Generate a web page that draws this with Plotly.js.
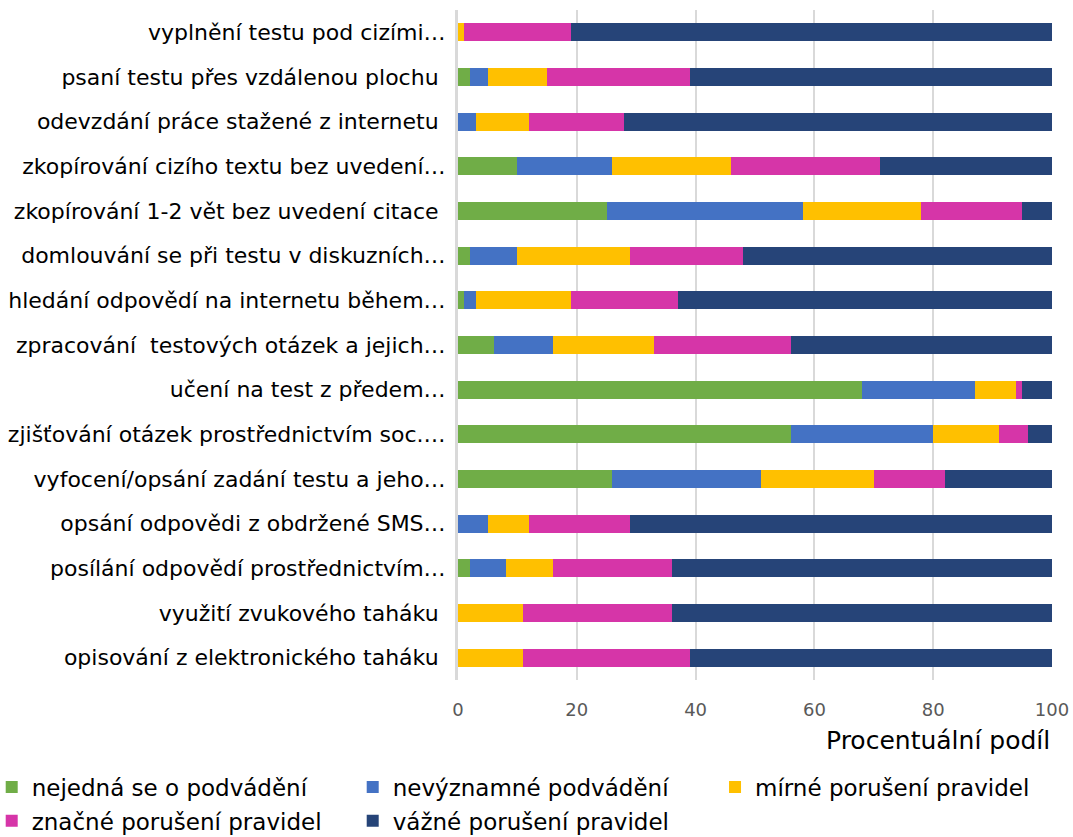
<!DOCTYPE html>
<html>
<head>
<meta charset="utf-8">
<script src="https://cdn.plot.ly/plotly-3.0.1.min.js"></script>
<style>html,body{margin:0;padding:0;background:#fff;}#chart{width:1073px;height:837px;}</style>
</head>
<body>
<div id="chart"></div>
<script>
const categories = [
  "vyplnění testu pod cizími…",
  "psaní testu přes vzdálenou plochu\u00a0",
  "odevzdání práce stažené z internetu\u00a0",
  "zkopírování cizího textu bez uvedení…",
  "zkopírování 1-2 vět bez uvedení citace\u00a0",
  "domlouvání se při testu v diskuzních…",
  "hledání odpovědí na internetu během…",
  "zpracování \u00a0testových otázek a jejich…",
  "učení na test z předem…",
  "zjišťování otázek prostřednictvím soc.…",
  "vyfocení/opsání zadání testu a jeho…",
  "opsání odpovědi z obdržené SMS…",
  "posílání odpovědí prostřednictvím…",
  "využití zvukového taháku\u00a0",
  "opisování z elektronického taháku\u00a0"
];
const seriesNames = ["nejedná se o podvádění","nevýznamné podvádění","mírné porušení pravidel","značné porušení pravidel","vážné porušení pravidel"];
const nejedna     = [0, 2, 0, 10, 25, 2, 1, 6, 68, 56, 26, 0, 2, 0, 0];
const nevyznamne  = [0, 3, 3, 16, 33, 8, 2, 10, 19, 24, 25, 5, 6, 0, 0];
const mirne       = [1, 10, 9, 20, 20, 19, 16, 17, 7, 11, 19, 7, 8, 11, 11];
const znacne      = [18, 24, 16, 25, 17, 19, 18, 23, 1, 5, 12, 17, 20, 25, 28];
const vazne       = [81, 61, 72, 29, 5, 52, 63, 44, 5, 4, 18, 71, 64, 64, 61];
const seriesValues = [nejedna, nevyznamne, mirne, znacne, vazne];
const colors = ["#70AD47","#4472C4","#FFC000","#D635A8","#264478"];
const legendGroup = ["legend","legend","legend3","legend2","legend2"];

const traces = seriesValues.map((vals, i) => ({
  type: "bar",
  orientation: "h",
  name: seriesNames[i],
  x: vals,
  y: categories,
  legend: legendGroup[i],
  marker: {color: colors[i], line: {width: 0}},
  hoverinfo: "x+name"
}));

const FONT = "DejaVu Sans, sans-serif";
const legendCommon = {
  orientation: "h",
  xanchor: "left",
  yanchor: "middle",
  traceorder: "normal",
  entrywidth: 316,
  entrywidthmode: "pixels",
  itemwidth: 30,
  font: {size: 23, color: "#000", family: FONT},
  bgcolor: "rgba(0,0,0,0)"
};

const layout = {
  width: 1073, height: 837,
  margin: {l: 458, r: 21, t: 10, b: 157, autoexpand: false},
  barmode: "stack",
  bargap: 0.6,
  paper_bgcolor: "#ffffff",
  plot_bgcolor: "#ffffff",
  font: {family: FONT, color: "#000"},
  xaxis: {
    range: [0, 100],
    dtick: 20,
    tick0: 0,
    showgrid: true,
    gridcolor: "#d9d9d9",
    gridwidth: 2,
    zeroline: false,
    showline: false,
    ticks: "",
    ticklabelstandoff: 17,
    tickfont: {size: 18, color: "#595959", family: FONT},
    fixedrange: true
  },
  yaxis: {
    type: "category",
    autorange: "reversed",
    showgrid: false,
    zeroline: false,
    showline: true,
    linecolor: "#d9d9d9",
    linewidth: 3,
    ticks: "",
    ticklabelstandoff: 5,
    tickfont: {size: 22, color: "#000", family: FONT},
    fixedrange: true
  },
  annotations: [{
    text: "Procentuální podíl",
    xref: "paper", yref: "paper",
    x: 1, y: -0.0896,
    xanchor: "right", yanchor: "middle",
    showarrow: false,
    font: {size: 25, color: "#000", family: FONT}
  }],
  showlegend: true,
  legend: Object.assign({}, legendCommon, {x: -0.785, y: -0.1597}),
  legend3: Object.assign({}, legendCommon, {x: 0.4327, y: -0.1597}),
  legend2: Object.assign({}, legendCommon, {x: -0.785, y: -0.2100})
};

Plotly.newPlot("chart", traces, layout, {displayModeBar: false, staticPlot: true});
</script>
</body>
</html>
